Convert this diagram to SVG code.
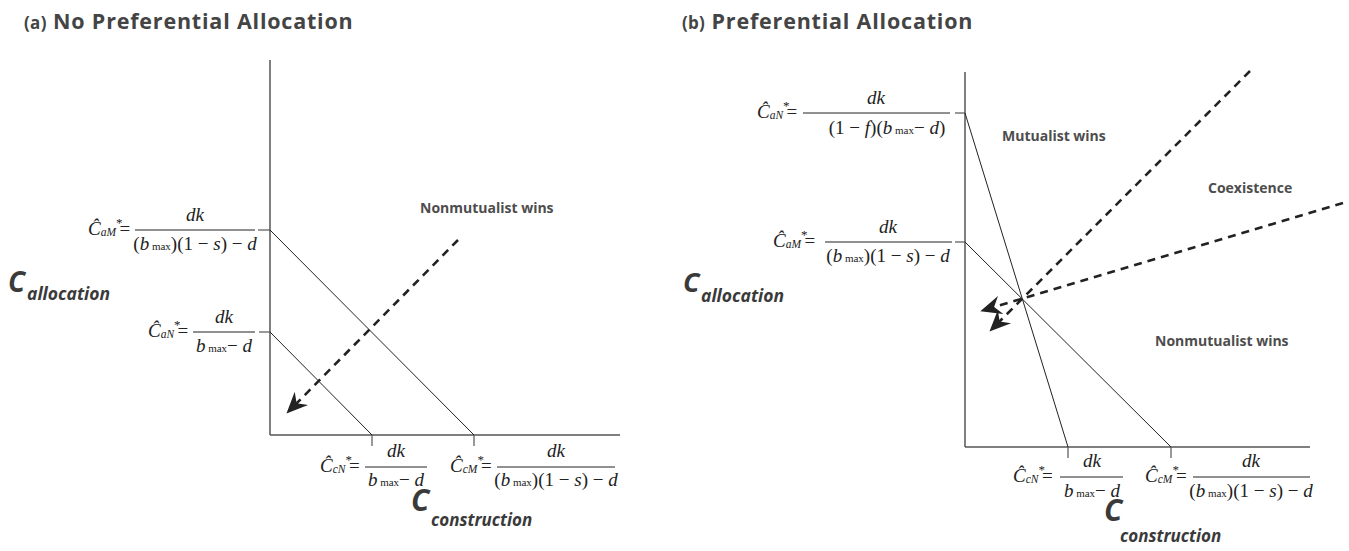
<svg xmlns="http://www.w3.org/2000/svg" width="1349" height="551" viewBox="0 0 1349 551">
<style>
.title{font-family:'Open Sans','Liberation Sans',sans-serif;font-weight:bold;font-size:21.5px;letter-spacing:0.8px;fill:#444}
.tsm{font-size:17px;letter-spacing:0.3px}
.lab{font-family:'Open Sans','Liberation Sans',sans-serif;font-weight:bold;font-size:14px;fill:#4d4d4d}
.axC{font-family:'Open Sans','Liberation Sans',sans-serif;font-weight:bold;font-style:italic;fill:#3a3a3a}
.m{font-family:'Liberation Serif','Times New Roman',serif;font-size:19px;fill:#222}
.i{font-style:italic}
.sub{font-size:11.5px;font-style:italic}
.sm{font-size:11px;font-style:normal}
.sup{font-size:13px}
.axis{stroke:#555;stroke-width:1.5;fill:none}
.ln{stroke:#222;stroke-width:1;fill:none}
.bar{stroke:#222;stroke-width:1}
.tick{stroke:#555;stroke-width:1.2}
.dash{stroke:#222;stroke-width:2.6;stroke-dasharray:8 6;fill:none;marker-end:url(#ah)}
</style>
<defs>
<marker id="ah" markerUnits="userSpaceOnUse" markerWidth="30" markerHeight="30" refX="0" refY="0" viewBox="-16 -10 24 20" orient="auto" overflow="visible">
<path d="M 3 0 L -14 -7.5 L -8.5 0 L -14 7.5 Z" fill="#222"/>
</marker>
</defs>

<g id="titles">
<text class="title" x="24" y="29"><tspan class="tsm">(a)</tspan> No Preferential Allocation</text>
<text class="title" x="682" y="29"><tspan class="tsm">(b)</tspan> Preferential Allocation</text>
</g>

<!-- Panel (a) -->
<g id="a-axes">
<line class="axis" x1="270" y1="60" x2="270" y2="435"/>
<line class="axis" x1="270" y1="435" x2="620" y2="435"/>
<line class="tick" x1="258" y1="230" x2="270" y2="230"/>
<line class="tick" x1="259" y1="332" x2="270" y2="332"/>
<line class="tick" x1="372" y1="435" x2="372" y2="446"/>
<line class="tick" x1="474" y1="435" x2="474" y2="446"/>
</g>
<g id="a-lines">
<line class="ln" x1="270" y1="230" x2="474" y2="435"/>
<line class="ln" x1="270" y1="332" x2="372" y2="435"/>
</g>
<g id="a-connectors">
<line class="dash" x1="458" y1="240" x2="289.1" y2="410.9"/>
</g>
<g id="a-label-nonmut"><text class="lab" x="420" y="213">Nonmutualist wins</text></g>
<g id="a-CaM">
<text class="m" x="88" y="235"><tspan class="i">Ĉ</tspan><tspan class="sub" dy="1">aM</tspan><tspan class="sup" dy="-9">*</tspan><tspan dx="-3" dy="8">=</tspan></text>
<line class="bar" x1="135" y1="230" x2="255" y2="230"/>
<text class="m i" x="195" y="221" text-anchor="middle">dk</text>
<text class="m" x="195" y="250" text-anchor="middle">(<tspan class="i">b</tspan><tspan class="sm"> max</tspan>)(1 − <tspan class="i">s</tspan>) − <tspan class="i">d</tspan></text>
</g>
<g id="a-CaN">
<text class="m" x="148" y="337"><tspan class="i">Ĉ</tspan><tspan class="sub" dy="1">aN</tspan><tspan class="sup" dy="-9">*</tspan><tspan dx="-3" dy="8">=</tspan></text>
<line class="bar" x1="193" y1="332" x2="255" y2="332"/>
<text class="m i" x="224" y="323" text-anchor="middle">dk</text>
<text class="m" x="224" y="352" text-anchor="middle"><tspan class="i">b</tspan><tspan class="sm"> max</tspan>− <tspan class="i">d</tspan></text>
</g>
<g id="a-CcN">
<text class="m" x="320" y="472"><tspan class="i">Ĉ</tspan><tspan class="sub" dy="1">cN</tspan><tspan class="sup" dy="-9">*</tspan><tspan dx="-3" dy="8">=</tspan></text>
<line class="bar" x1="365" y1="467" x2="427" y2="467"/>
<text class="m i" x="396" y="457" text-anchor="middle">dk</text>
<text class="m" x="396" y="486" text-anchor="middle"><tspan class="i">b</tspan><tspan class="sm"> max</tspan>− <tspan class="i">d</tspan></text>
</g>
<g id="a-CcM">
<text class="m" x="450" y="472"><tspan class="i">Ĉ</tspan><tspan class="sub" dy="1">cM</tspan><tspan class="sup" dy="-9">*</tspan><tspan dx="-3" dy="8">=</tspan></text>
<line class="bar" x1="497" y1="467" x2="615" y2="467"/>
<text class="m i" x="556" y="457" text-anchor="middle">dk</text>
<text class="m" x="556" y="486" text-anchor="middle">(<tspan class="i">b</tspan><tspan class="sm"> max</tspan>)(1 − <tspan class="i">s</tspan>) − <tspan class="i">d</tspan></text>
</g>
<g id="a-Calloc">
<text class="axC" x="8" y="292" font-size="28">C</text>
<text class="axC" x="27" y="300" font-size="17.5">allocation</text>
</g>
<g id="a-Cconst">
<text class="axC" x="411" y="511" font-size="30">C</text>
<text class="axC" x="431" y="526" font-size="17">construction</text>
</g>

<!-- Panel (b) -->
<g id="b-axes">
<line class="axis" x1="965" y1="72" x2="965" y2="447"/>
<line class="axis" x1="965" y1="447" x2="1310" y2="447"/>
<line class="tick" x1="955" y1="113" x2="965" y2="113"/>
<line class="tick" x1="955" y1="242" x2="965" y2="242"/>
<line class="tick" x1="1068" y1="447" x2="1068" y2="458"/>
<line class="tick" x1="1171" y1="447" x2="1171" y2="458"/>
</g>
<g id="b-lines">
<line class="ln" x1="965" y1="113" x2="1068" y2="447"/>
<line class="ln" x1="965" y1="242" x2="1171" y2="447"/>
</g>
<g id="b-connectors">
<line class="dash" x1="1250" y1="71" x2="992.1" y2="328.9"/>
<line class="dash" x1="1343" y1="203" x2="983.9" y2="310.1"/>
</g>
<g id="b-label-mut"><text class="lab" x="1002" y="141">Mutualist wins</text></g>
<g id="b-label-coex"><text class="lab" x="1208" y="193">Coexistence</text></g>
<g id="b-label-nonmut"><text class="lab" x="1155" y="346">Nonmutualist wins</text></g>
<g id="b-CaN">
<text class="m" x="757" y="118"><tspan class="i">Ĉ</tspan><tspan class="sub" dy="1">aN</tspan><tspan class="sup" dy="-9">*</tspan><tspan dx="-3" dy="8">=</tspan></text>
<line class="bar" x1="803" y1="113" x2="950" y2="113"/>
<text class="m i" x="876" y="104" text-anchor="middle">dk</text>
<text class="m" x="887" y="134" text-anchor="middle">(1 − <tspan class="i">f</tspan>)(<tspan class="i">b</tspan><tspan class="sm"> max</tspan>− <tspan class="i">d</tspan>)</text>
</g>
<g id="b-CaM">
<text class="m" x="773" y="247"><tspan class="i">Ĉ</tspan><tspan class="sub" dy="1">aM</tspan><tspan class="sup" dy="-9">*</tspan><tspan dx="-3" dy="8">=</tspan></text>
<line class="bar" x1="825" y1="242" x2="952" y2="242"/>
<text class="m i" x="888" y="233" text-anchor="middle">dk</text>
<text class="m" x="888" y="262" text-anchor="middle">(<tspan class="i">b</tspan><tspan class="sm"> max</tspan>)(1 − <tspan class="i">s</tspan>) − <tspan class="i">d</tspan></text>
</g>
<g id="b-CcN">
<text class="m" x="1013" y="482"><tspan class="i">Ĉ</tspan><tspan class="sub" dy="1">cN</tspan><tspan class="sup" dy="-9">*</tspan><tspan dx="-3" dy="8">=</tspan></text>
<line class="bar" x1="1060" y1="477" x2="1123" y2="477"/>
<text class="m i" x="1092" y="467" text-anchor="middle">dk</text>
<text class="m" x="1092" y="497" text-anchor="middle"><tspan class="i">b</tspan><tspan class="sm"> max</tspan>− <tspan class="i">d</tspan></text>
</g>
<g id="b-CcM">
<text class="m" x="1145" y="482"><tspan class="i">Ĉ</tspan><tspan class="sub" dy="1">cM</tspan><tspan class="sup" dy="-9">*</tspan><tspan dx="-3" dy="8">=</tspan></text>
<line class="bar" x1="1193" y1="477" x2="1310" y2="477"/>
<text class="m i" x="1251" y="467" text-anchor="middle">dk</text>
<text class="m" x="1251" y="497" text-anchor="middle">(<tspan class="i">b</tspan><tspan class="sm"> max</tspan>)(1 − <tspan class="i">s</tspan>) − <tspan class="i">d</tspan></text>
</g>
<g id="b-Calloc">
<text class="axC" x="683" y="292" font-size="27">C</text>
<text class="axC" x="701" y="302" font-size="17.5">allocation</text>
</g>
<g id="b-Cconst">
<text class="axC" x="1104" y="521" font-size="30">C</text>
<text class="axC" x="1120" y="542" font-size="17">construction</text>
</g>
</svg>
